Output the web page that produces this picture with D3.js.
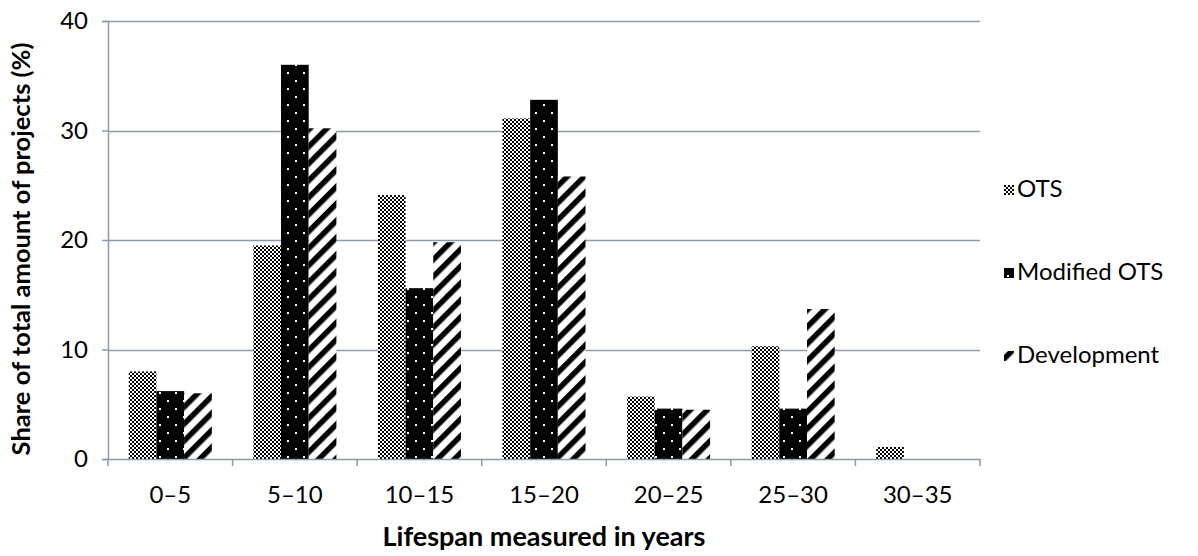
<!DOCTYPE html>
<html>
<head>
<meta charset="utf-8">
<script src="https://cdn.jsdelivr.net/npm/d3@7"></script>
<style>
  body { margin: 0; background: #fff; }
  text { font-family: Lato, "Open Sans", sans-serif; fill: #000; }
</style>
</head>
<body>
<div id="chart"></div>
<script>
const categories = ['0–5', '5–10', '10–15', '15–20', '20–25', '25–30', '30–35'];
const seriesNames = ['OTS', 'Modified OTS', 'Development'];
const otsValues = [8.0, 19.5, 24.1, 31.1, 5.7, 10.3, 1.1];
const modifiedValues = [6.2, 36.0, 15.6, 32.8, 4.6, 4.6, 0];
const developmentValues = [6.0, 30.2, 19.8, 25.8, 4.5, 13.7, 0];
const yTicks = [0, 10, 20, 30, 40];

const series = [otsValues, modifiedValues, developmentValues];
const patternIds = ['pat-ots', 'pat-mod', 'pat-dev'];

const width = 1198, height = 556;
const margin = {top: 21, right: 218, bottom: 97, left: 108};
const innerW = width - margin.left - margin.right;
const innerH = height - margin.top - margin.bottom;
const gridColor = '#8e99ab';
const fontSize = 24;

const svg = d3.select('#chart').append('svg')
    .attr('width', width)
    .attr('height', height);

// fill patterns
const defs = svg.append('defs');

const pOts = defs.append('pattern')
    .attr('id', 'pat-ots')
    .attr('patternUnits', 'userSpaceOnUse')
    .attr('width', 4).attr('height', 4);
pOts.append('rect').attr('width', 4).attr('height', 4).attr('fill', '#fff');
pOts.append('rect').attr('width', 2).attr('height', 2).attr('fill', '#000');
pOts.append('rect').attr('x', 2).attr('y', 2).attr('width', 2).attr('height', 2).attr('fill', '#000');

const pMod = defs.append('pattern')
    .attr('id', 'pat-mod')
    .attr('patternUnits', 'userSpaceOnUse')
    .attr('width', 16).attr('height', 16);
pMod.append('rect').attr('width', 16).attr('height', 16).attr('fill', '#000');
pMod.append('rect').attr('x', 3).attr('y', 3).attr('width', 2).attr('height', 2).attr('fill', '#fff');
pMod.append('rect').attr('x', 11).attr('y', 11).attr('width', 2).attr('height', 2).attr('fill', '#fff');

const pDev = defs.append('pattern')
    .attr('id', 'pat-dev')
    .attr('patternUnits', 'userSpaceOnUse')
    .attr('width', 12).attr('height', 12)
    .attr('patternTransform', 'rotate(45)');
pDev.append('rect').attr('width', 12).attr('height', 12).attr('fill', '#fff');
pDev.append('rect').attr('width', 5.5).attr('height', 12).attr('fill', '#000');

const g = svg.append('g')
    .attr('transform', `translate(${margin.left},${margin.top})`);

const x = d3.scaleBand()
    .domain(categories)
    .range([0, innerW]);

const xInner = d3.scaleBand()
    .domain(d3.range(series.length))
    .range([0, x.bandwidth()])
    .paddingOuter(0.75);

const y = d3.scaleLinear()
    .domain([0, 40])
    .range([innerH, 0]);

// gridlines
g.append('g')
  .selectAll('line')
  .data(yTicks.filter(d => d > 0))
  .join('line')
    .attr('x1', 0).attr('x2', innerW)
    .attr('y1', d => Math.round(y(d)) + 0.5)
    .attr('y2', d => Math.round(y(d)) + 0.5)
    .attr('stroke', gridColor)
    .attr('stroke-width', 1.5);

// bars
series.forEach((vals, si) => {
  g.append('g')
    .selectAll('rect')
    .data(vals)
    .join('rect')
      .attr('x', (d, i) => x(categories[i]) + xInner(si))
      .attr('width', xInner.bandwidth())
      .attr('y', d => y(d))
      .attr('height', d => innerH - y(d))
      .attr('fill', `url(#${patternIds[si]})`);
});

// y axis
const yAxis = g.append('g')
    .call(d3.axisLeft(y).tickValues(yTicks).tickSize(6).tickPadding(14).tickFormat(d3.format('d')));
yAxis.select('.domain').attr('stroke', gridColor).attr('stroke-width', 1.5);
yAxis.selectAll('.tick line').attr('stroke', gridColor).attr('stroke-width', 1.5);
yAxis.selectAll('.tick text').attr('font-size', fontSize).style('font-family', 'Lato, sans-serif');

// x axis
const xAxis = g.append('g')
    .attr('transform', `translate(0,${innerH})`)
    .call(d3.axisBottom(x).tickSize(0).tickPadding(27));
xAxis.select('.domain').attr('stroke', gridColor).attr('stroke-width', 1.5);
xAxis.selectAll('.tick text').attr('font-size', fontSize).style('font-family', 'Lato, sans-serif');
xAxis.append('g')
  .selectAll('line')
  .data(d3.range(categories.length + 1))
  .join('line')
    .attr('x1', i => i * x.step())
    .attr('x2', i => i * x.step())
    .attr('y1', 0).attr('y2', 7)
    .attr('stroke', gridColor)
    .attr('stroke-width', 1.5);

// axis titles
svg.append('text')
    .attr('x', margin.left + innerW / 2)
    .attr('y', 546)
    .attr('text-anchor', 'middle')
    .attr('font-size', 27)
    .attr('font-weight', 'bold')
    .text('Lifespan measured in years');

svg.append('text')
    .attr('transform', `translate(30,249) rotate(-90)`)
    .attr('text-anchor', 'middle')
    .attr('font-size', 25.5)
    .attr('font-weight', 'bold')
    .text('Share of total amount of projects (%)');

// legend
const legend = svg.append('g')
    .attr('transform', 'translate(1004,189)');
const item = legend.selectAll('g')
    .data(seriesNames)
    .join('g')
    .attr('transform', (d, i) => `translate(0,${i * 83})`);
item.append('rect')
    .attr('x', 0).attr('y', -4)
    .attr('width', 10).attr('height', 10)
    .attr('fill', (d, i) => `url(#${patternIds[i]})`);
item.append('text')
    .attr('x', 13)
    .attr('dy', '0.35em')
    .attr('font-size', fontSize)
    .text(d => d);
</script>
</body>
</html>
